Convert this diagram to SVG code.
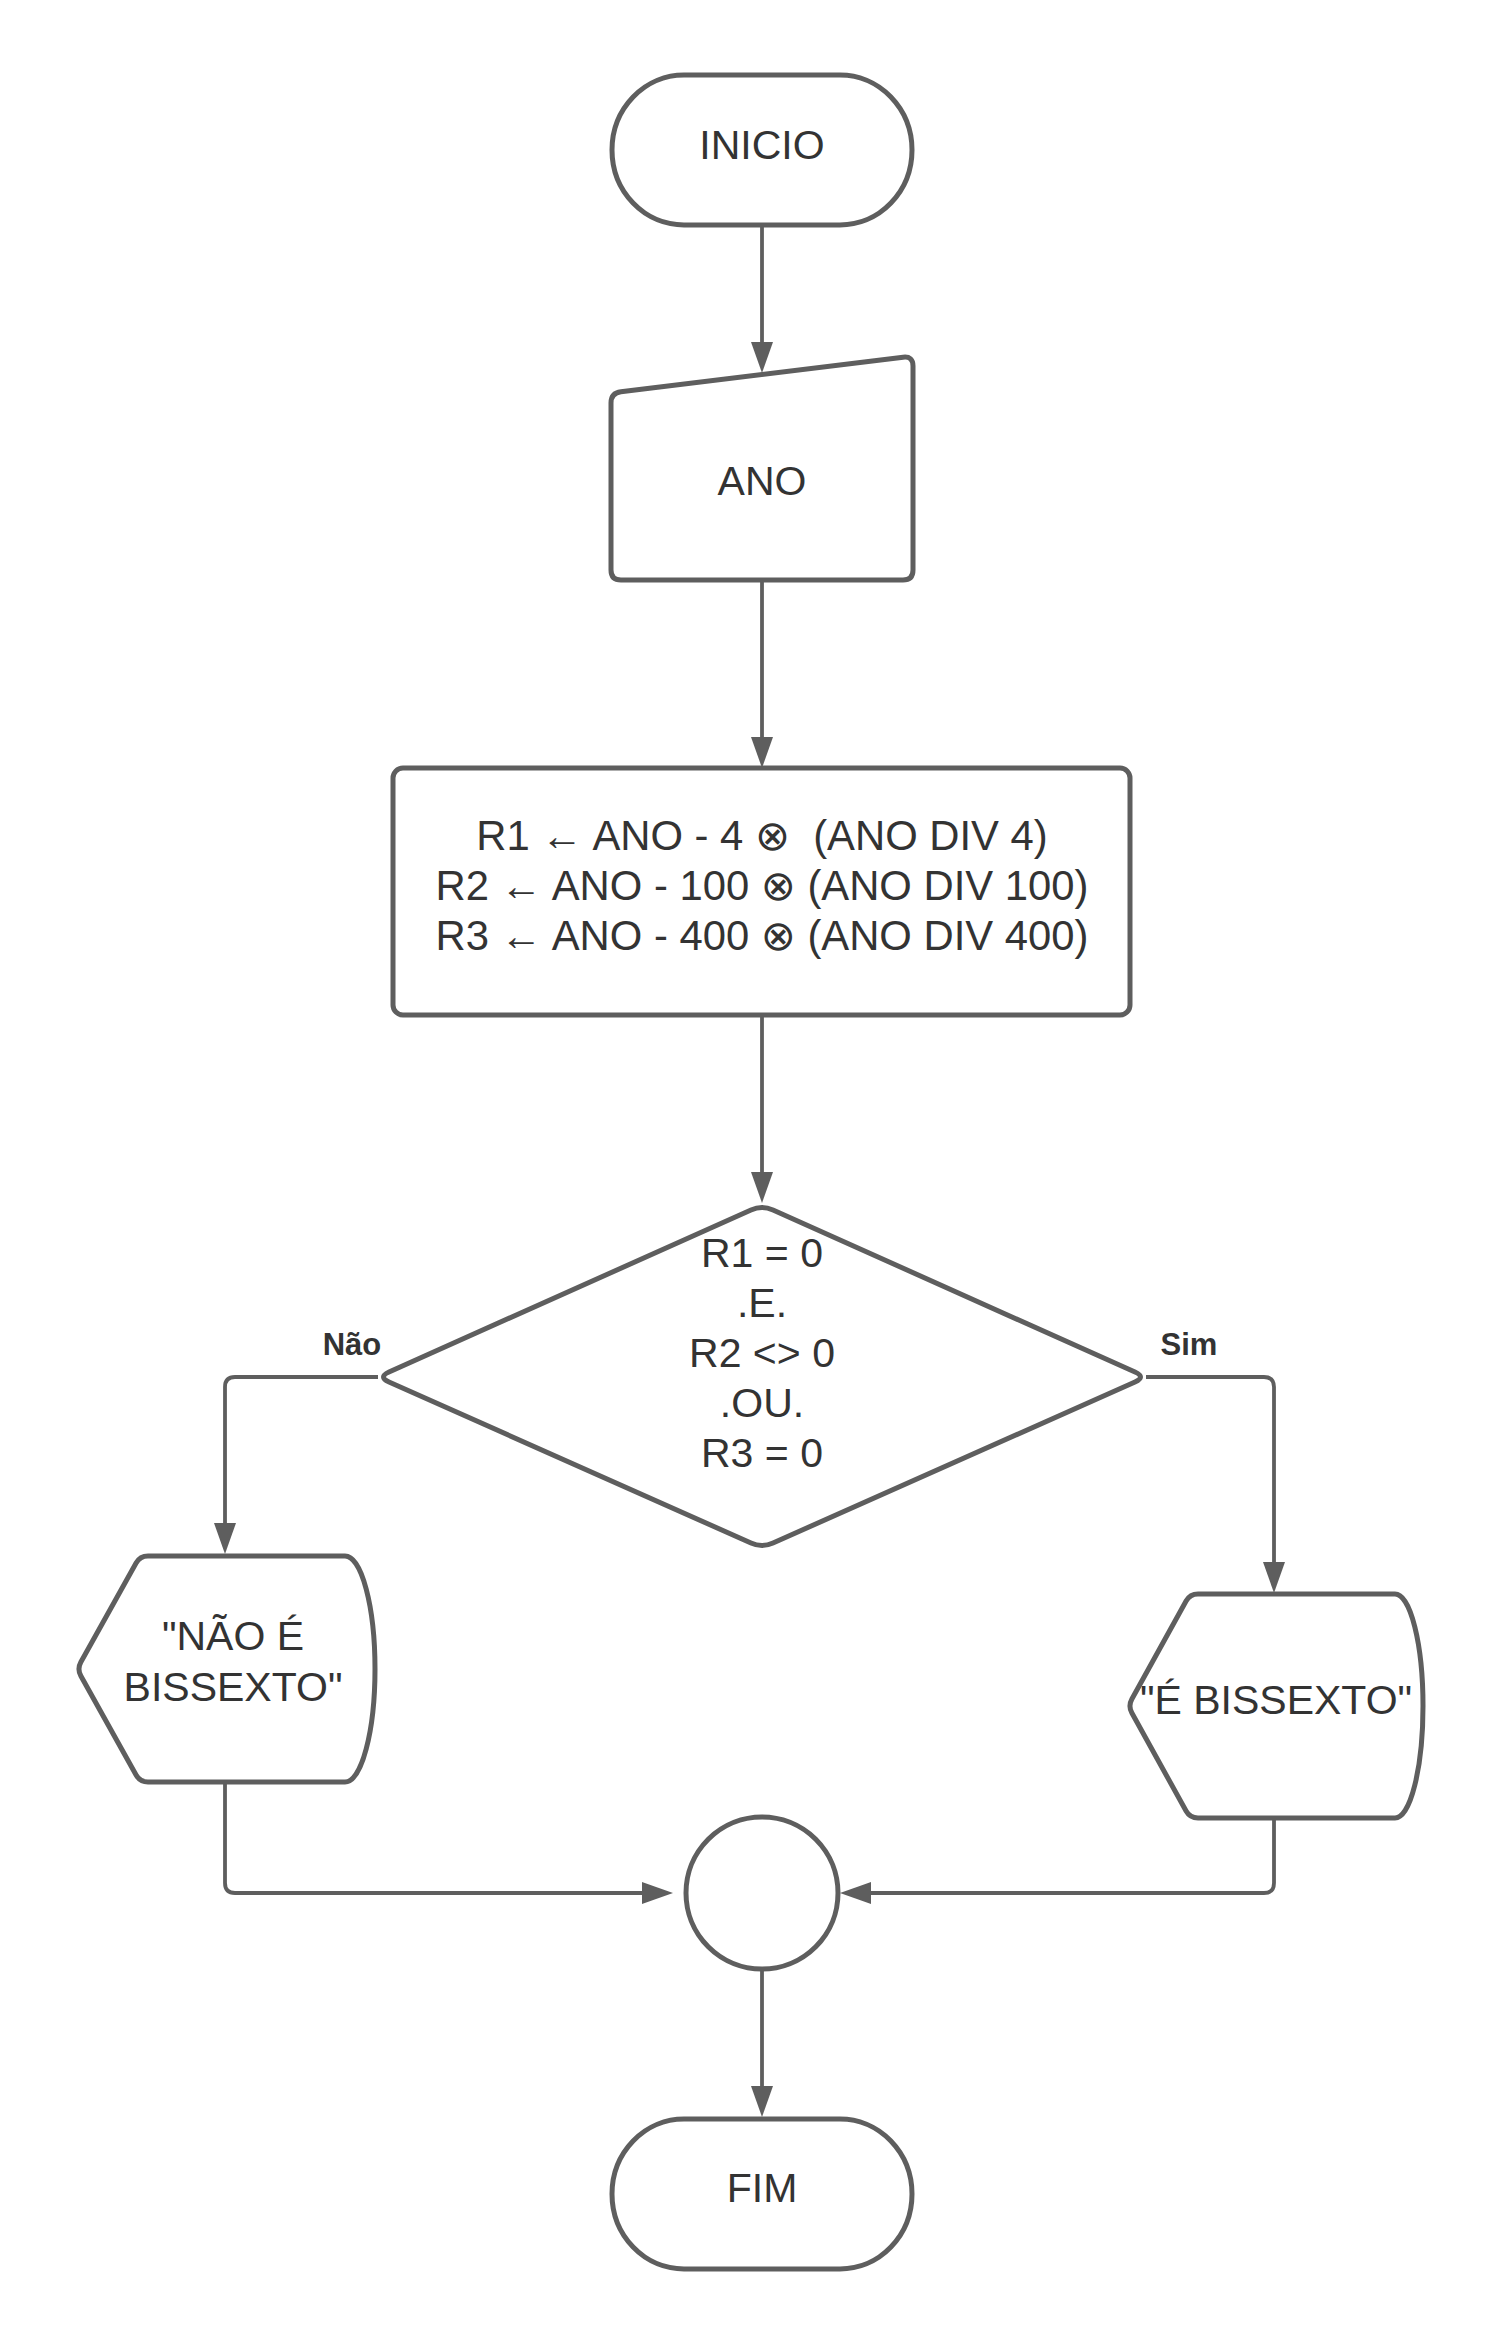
<svg xmlns="http://www.w3.org/2000/svg" width="1500" height="2344" viewBox="0 0 1500 2344">
  <style>
    .shape { fill: #ffffff; stroke: #5e5e5e; stroke-width: 5; stroke-linejoin: round; }
    .edge { fill: none; stroke: #5e5e5e; stroke-width: 3.8; }
    .label { font-family: "Liberation Sans", Arial, "DejaVu Sans", sans-serif; font-size: 41px; fill: #333333; text-anchor: middle; white-space: pre; }
    .calc { font-size: 41.8px; }
    .branch { font-family: "Liberation Sans", Arial, sans-serif; font-size: 31px; font-weight: bold; fill: #333333; text-anchor: middle; }
  </style>
  <defs>
    <marker id="arrow" markerUnits="userSpaceOnUse" markerWidth="31" markerHeight="22" viewBox="0 0 31 22" refX="11" refY="11" orient="auto">
      <path d="M0,0 L31,11 L0,22 Z" fill="#5e5e5e"/>
    </marker>
  </defs>
  <rect width="1500" height="2344" fill="#ffffff"/>

  <g id="connectors">
    <path class="edge" d="M762,226 V353" marker-end="url(#arrow)"/>
    <path class="edge" d="M762,580 V748" marker-end="url(#arrow)"/>
    <path class="edge" d="M762,1016 V1183" marker-end="url(#arrow)"/>
    <path class="edge" d="M378,1377 H235 Q225,1377 225,1387 V1534" marker-end="url(#arrow)"/>
    <path class="edge" d="M1146,1377 H1264 Q1274,1377 1274,1387 V1573" marker-end="url(#arrow)"/>
    <path class="edge" d="M225,1782 V1883 Q225,1893 235,1893 H653" marker-end="url(#arrow)"/>
    <path class="edge" d="M1274,1818 V1883 Q1274,1893 1264,1893 H860" marker-end="url(#arrow)"/>
    <path class="edge" d="M762,1969 V2097" marker-end="url(#arrow)"/>
    <text class="branch" x="352" y="1355">Não</text>
    <text class="branch" x="1189" y="1355">Sim</text>
  </g>

  <g id="inicio">
    <rect class="shape" x="612" y="75" width="300" height="150" rx="72" ry="75"/>
    <text class="label" x="762" y="159">INICIO</text>
  </g>

  <g id="entrada-ano">
    <path class="shape" d="M611,403 Q611,393 620.9,391.8 L903.1,357.2 Q913,356 913,366 L913,570 Q913,580 903,580 L621,580 Q611,580 611,570 Z"/>
    <text class="label" x="762" y="495">ANO</text>
  </g>

  <g id="calculo">
    <rect class="shape" x="393" y="768" width="737" height="247" rx="10"/>
    <text class="label calc" x="762" y="850">R1 ← ANO - 4 ⊗  (ANO DIV 4)</text>
    <text class="label calc" x="762" y="900">R2 ← ANO - 100 ⊗ (ANO DIV 100)</text>
    <text class="label calc" x="762" y="950">R3 ← ANO - 400 ⊗ (ANO DIV 400)</text>
  </g>

  <g id="decisao">
    <path class="shape" d="M751,1210 Q762,1205 773,1210 L1135,1372 Q1146,1377 1135,1382 L773,1543 Q762,1548 751,1543 L389,1382 Q378,1377 389,1372 Z"/>
    <text class="label" x="762" y="1267">R1 = 0</text>
    <text class="label" x="762" y="1317">.E.</text>
    <text class="label" x="762" y="1367">R2 &lt;&gt; 0</text>
    <text class="label" x="762" y="1417">.OU.</text>
    <text class="label" x="762" y="1467">R3 = 0</text>
  </g>

  <g id="saida-nao">
    <path class="shape" d="M148,1556 H345 A30,113 0 0 1 345,1782 H148 Q140,1782 136.1,1775 L80.9,1676 Q77,1669 80.9,1662 L136.1,1563 Q140,1556 148,1556 Z"/>
    <text class="label" x="233" y="1650">"NÃO É</text>
    <text class="label" x="233" y="1701">BISSEXTO"</text>
  </g>

  <g id="saida-sim">
    <path class="shape" d="M1198,1594 H1395 A28,112 0 0 1 1395,1818 H1198 Q1190,1818 1186.1,1811 L1131.9,1713 Q1128,1706 1131.9,1699 L1186.1,1601 Q1190,1594 1198,1594 Z"/>
    <text class="label" x="1276" y="1714">"É BISSEXTO"</text>
  </g>

  <g id="juncao">
    <circle class="shape" cx="762" cy="1893" r="76"/>
  </g>

  <g id="fim">
    <rect class="shape" x="612" y="2119" width="300" height="150" rx="72" ry="75"/>
    <text class="label" x="762" y="2202">FIM</text>
  </g>
</svg>
